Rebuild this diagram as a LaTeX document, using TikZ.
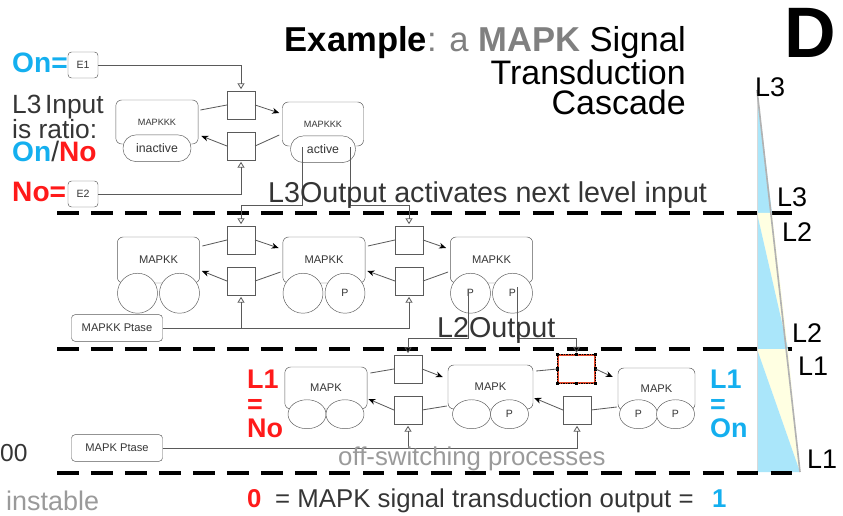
\documentclass[tikz,border=0pt]{standalone}
\usepackage{fontspec}
\setmainfont{Liberation Sans}
\usetikzlibrary{arrows.meta,calc,positioning,shapes.geometric}

\definecolor{oncyan}{HTML}{14AFEF}
\definecolor{nored}{HTML}{FF1A1A}
\definecolor{ink}{HTML}{353535}
\definecolor{wire}{HTML}{5A5A5A}
\definecolor{selred}{HTML}{E5482A}
\definecolor{lightblue}{HTML}{AAE6FA}
\definecolor{lightyellow}{HTML}{FFFFE2}
\definecolor{softgray}{HTML}{9A9A9A}

\tikzset{
  species/.style={draw=wire, fill=white, rounded corners=5pt, minimum width=2.47cm, minimum height=1.38cm, inner sep=0pt, text=ink, font=\fontsize{9.5}{10}\selectfont},
  pill/.style={draw=wire, fill=white, rounded corners=0.39cm, minimum height=0.8cm, inner sep=0pt, text=ink, font=\fontsize{10.5}{11}\selectfont},
  site/.style={draw=wire, fill=white, circle, minimum size=1.2cm, inner sep=0pt, text=ink, font=\fontsize{9}{10}\selectfont},
  flatsite/.style={site, ellipse, minimum width=1.14cm, minimum height=0.87cm},
  react/.style={draw=wire, fill=white, minimum width=0.83cm, minimum height=0.83cm, inner sep=0pt},
  enz/.style={draw=wire, fill=white, rounded corners=3pt, minimum height=0.8cm, inner sep=0pt, text=ink, font=\fontsize{9.5}{10}\selectfont},
  flux/.style={wire, line width=0.7pt},
  push/.style={flux, -{Stealth[length=6pt,width=5pt,color=black]}},
  modif/.style={wire, line width=0.7pt, -{Triangle[open,length=5pt,width=6pt]}, shorten >=1.5pt},
  divider/.style={line width=3.3pt, dash pattern=on 18.5pt off 10.5pt},
  big/.style={inner sep=0pt, anchor=base west, text=ink, font=\fontsize{24.5}{25}\selectfont},
  side/.style={inner sep=0pt, anchor=base west, font=\fontsize{23}{23}\selectfont\bfseries},
  tri/.style={inner sep=0pt, anchor=base west, font=\fontsize{23}{23}\selectfont},
}

\begin{document}
\begin{tikzpicture}[x=0.03cm, y=-0.03cm, >=stealth]
\useasboundingbox (0,0) rectangle (843,516);

% title
\node[inner sep=0pt, anchor=base east, font=\fontsize{29.5}{29}\selectfont] (title1) at (686,52) {\textbf{Example}\textcolor{gray}{: a \textbf{MAPK}} Signal};
\node[inner sep=0pt, anchor=base east, font=\fontsize{29}{29}\selectfont] (title2) at (686,85) {Transduction};
\node[inner sep=0pt, anchor=base east, font=\fontsize{29}{29}\selectfont] (title3) at (686,115) {Cascade};
\node[inner sep=0pt, anchor=base west, font=\fontsize{61}{61}\selectfont\bfseries] (panel) at (784,58) {D};

% level dividers
\draw[divider] (57,213) -- (795,213);
\draw[divider] (57,349) -- (795,349);

% level 3
\node[react] (r3Up) at (241,105) {};
\node[react] (r3Dn) at (241,146) {};
\node[species, font=\fontsize{7.8}{8}\selectfont, minimum height=1.32cm] (kkkOff) at (157,122) {MAPKKK};
\node[pill, minimum width=2.04cm] (kkkOffP) at ($(kkkOff.south)+(0,4)$) {inactive};
\node[species, font=\fontsize{7.8}{8}\selectfont, minimum height=1.32cm, minimum width=2.43cm] (kkkOn) at (323,124) {MAPKKK};
\node[pill, minimum width=1.95cm] (kkkOnP) at ($(kkkOn.south)+(0,3)$) {active};
\draw[flux] ($(kkkOff.east)+(2,-12)$) -- (r3Up.west);
\draw[push] (r3Up.east) -- ($(kkkOn.west)+(-3,-11)$);
\draw[flux] ($(kkkOn.west)+(-3,11)$) -- (r3Dn.east);
\draw[push] (r3Dn.west) -- ($(kkkOff.east)+(3,14)$);

\node[enz, minimum width=0.9cm, minimum height=0.78cm, font=\fontsize{9}{10}\selectfont] (eOne) at (83,65) {E1};
\node[enz, minimum width=0.9cm, minimum height=0.78cm, font=\fontsize{9}{10}\selectfont] (eTwo) at (83,194) {E2};
\draw[modif] (eOne.east) -| (r3Up.north);
\draw[modif] (eTwo.east) -| (r3Dn.south);
\node[side, text=oncyan, font=\fontsize{24}{24}\selectfont\bfseries] (onEq) at (12,73) {On=};
\node[side, text=nored, font=\fontsize{24}{24}\selectfont\bfseries] (noEq) at (12,202) {No=};
\node[big, font=\fontsize{22.5}{23}\selectfont] (ratio1) at (12,114) {L3\kern3pt Input};
\node[big, font=\fontsize{22.5}{23}\selectfont] (ratio2) at (12,139) {is ratio:};
\node[big, font=\fontsize{24}{24}\selectfont] (ratio3) at (12,162) {\textbf{\textcolor{oncyan}{On}}/\textbf{\textcolor{nored}{No}}};

% level 3 output
\coordinate (out3a) at ($(kkkOnP.center)+(-21,-2)$);
\coordinate (out3b) at ($(kkkOnP.center)+(27,-2)$);
\coordinate (bus3) at (0,205);

% level 2
\node[react] (r2aUp) at (241,240) {};
\node[react] (r2aDn) at (241,281) {};
\node[react] (r2bUp) at (409,240) {};
\node[react] (r2bDn) at (409,281) {};
\draw[modif] (out3a) -- (out3a |- bus3) -| (r2aUp.north);
\draw[modif] (out3b) -- (out3b |- bus3) -| (r2bUp.north);
\node[big] (out3txt) at (268,203) {L3Output activates next level input};

\node[species] (kkA) at (158.5,260) {MAPKK};
\node[species] (kkB) at (324,260) {MAPKK};
\node[species] (kkC) at (491.5,260) {MAPKK};
\node[site] (kkA1) at ($(kkA.south)+(-21,10)$) {};
\node[site] (kkA2) at ($(kkA.south)+(21,10)$) {};
\node[site] (kkB1) at ($(kkB.south)+(-21,10)$) {};
\node[site] (kkB2) at ($(kkB.south)+(21,10)$) {P};
\node[site] (kkC1) at ($(kkC.south)+(-21,10)$) {P};
\node[site] (kkC2) at ($(kkC.south)+(21,10)$) {P};
\draw[flux] ($(kkA.east)+(2.5,-14)$) -- (r2aUp.west);
\draw[push] (r2aUp.east) -- ($(kkB.west)+(-4,-12)$);
\draw[flux] ($(kkB.west)+(-2,12)$) -- (r2aDn.east);
\draw[push] (r2aDn.west) -- ($(kkA.east)+(2,11)$);
\draw[flux] ($(kkB.east)+(2.5,-14)$) -- (r2bUp.west);
\draw[push] (r2bUp.east) -- ($(kkC.west)+(-4,-12)$);
\draw[flux] ($(kkC.west)+(-2,12)$) -- (r2bDn.east);
\draw[push] (r2bDn.west) -- ($(kkB.east)+(2,11)$);

\node[enz, minimum width=2.73cm] (kkPtase) at (117,328) {MAPKK Ptase};
\draw[modif] (kkPtase.east) -| (r2aDn.south);
\draw[modif] (kkPtase.east) -| (r2bDn.south);

% level 1
\node[react] (r1aUp) at (408,369) {};
\node[react] (r1aDn) at (408,410) {};
\node[react, draw=selred, line width=1.2pt, minimum width=1.11cm] (r1bUp) at (576.5,369) {};
\draw[densely dotted, thin] (r1bUp.north west) rectangle (r1bUp.south east);
\foreach \a in {north west,north,north east,east,south east,south,south west,west}
  \fill (r1bUp.\a) +(-1.6,-1.6) rectangle +(1.6,1.6);
\node[react] (r1bDn) at (577,410) {};

% level 2 output
\coordinate (out2a) at ($(kkC1.center)+(-2,-4)$);
\coordinate (out2b) at ($(kkC2.center)+(5,-6)$);
\coordinate (bus2) at (0,338);
\draw[modif] (out2a) -- (out2a |- bus2) -| (r1aUp.north);
\draw[modif] (out2b) -- (out2b |- bus2) -| (r1bUp.north);
\node[big] (out2txt) at (437,337) {L2Output};

\node[species, minimum height=1.26cm] (kA) at (326,388) {MAPK};
\node[species, minimum height=1.32cm, minimum width=2.55cm] (kB) at (490.5,387) {MAPK};
\node[species, minimum height=1.26cm, minimum width=2.31cm] (kC) at (656.5,389) {MAPK};
\node[flatsite] (kA1) at ($(kA.south)+(-19,5)$) {};
\node[flatsite] (kA2) at ($(kA.south)+(19,5)$) {};
\node[flatsite] (kB1) at ($(kB.south)+(-19,5)$) {};
\node[flatsite] (kB2) at ($(kB.south)+(19,5)$) {P};
\node[flatsite] (kC1) at ($(kC.south)+(-18,4)$) {P};
\node[flatsite] (kC2) at ($(kC.south)+(19,4)$) {P};
\draw[flux] ($(kA.east)+(3,-15)$) -- (r1aUp.west);
\draw[push] (r1aUp.east) -- ($(kB.west)+(-5,-10)$);
\draw[flux] ($(kB.west)+(-1,19)$) -- (r1aDn.east);
\draw[push] (r1aDn.west) -- ($(kA.east)+(1,11)$);
\draw[flux] ($(kB.east)+(3,-16)$) -- (r1bUp.west);
\draw[push] (r1bUp.east) -- ($(kC.west)+(-5,-12)$);
\draw[flux] ($(kC.west)+(-1,18)$) -- (r1bDn.east);
\draw[push] (r1bDn.west) -- ($(kB.east)+(1,11)$);

\node[enz, minimum width=2.73cm] (kPtase) at (117,448) {MAPK Ptase};
\draw[modif] (kPtase.east) -| (r1aDn.south);
\draw[modif] (kPtase.east) -| (r1bDn.south);
\node[big, text=softgray, font=\fontsize{22}{22}\selectfont] (offTxt) at (338,465) {off-switching processes};

\node[side, text=nored] (l1no1) at (247,388) {L1};
\node[side, text=nored] (l1no2) at (247,413) {=};
\node[side, text=nored] (l1no3) at (247,437) {No};
\node[side, text=oncyan] (l1on1) at (710,388) {L1};
\node[side, text=oncyan] (l1on2) at (710,413) {=};
\node[side, text=oncyan] (l1on3) at (710,437) {On};

% ratio wedge
\fill[lightblue] (757,90) -- (772,213) -- (757,213) -- cycle;
\fill[lightyellow] (757,213) -- (772,213) -- (788,349) -- cycle;
\fill[lightblue] (757,213) -- (788,349) -- (757,349) -- cycle;
\fill[lightyellow] (757,349) -- (788,349) -- (800,472) -- cycle;
\fill[lightblue] (757,349) -- (800,472) -- (757,472) -- cycle;
\draw[black!15, line width=0.5pt] (757,90) -- (757,472);
\draw[black!30, line width=1.4pt] (757,90) -- (800,472);
\draw[divider] (57,473) -- (803,473);
\node[tri] (w3a) at (755,97) {L3};
\node[tri] (w3b) at (777,207) {L3};
\node[tri] (w2a) at (782,242) {L2};
\node[tri] (w2b) at (792,343) {L2};
\node[tri] (w1a) at (798,375) {L1};
\node[tri] (w1b) at (807,468) {L1};

% bottom line
\node[big, text=ink, font=\fontsize{21}{21}\selectfont] (cut) at (0,461) {00};
\node[big, text=softgray, font=\fontsize{23}{23}\selectfont] (instable) at (6,510) {instable};
\node[side, text=nored, font=\fontsize{22}{22}\selectfont\bfseries] (zeroOut) at (247,507) {0};
\node[big, font=\fontsize{22}{22}\selectfont] (outTxt) at (275,507) {= MAPK signal transduction output =};
\node[side, text=oncyan, font=\fontsize{22}{22}\selectfont\bfseries] (oneOut) at (712,507) {1};

\end{tikzpicture}
\end{document}
